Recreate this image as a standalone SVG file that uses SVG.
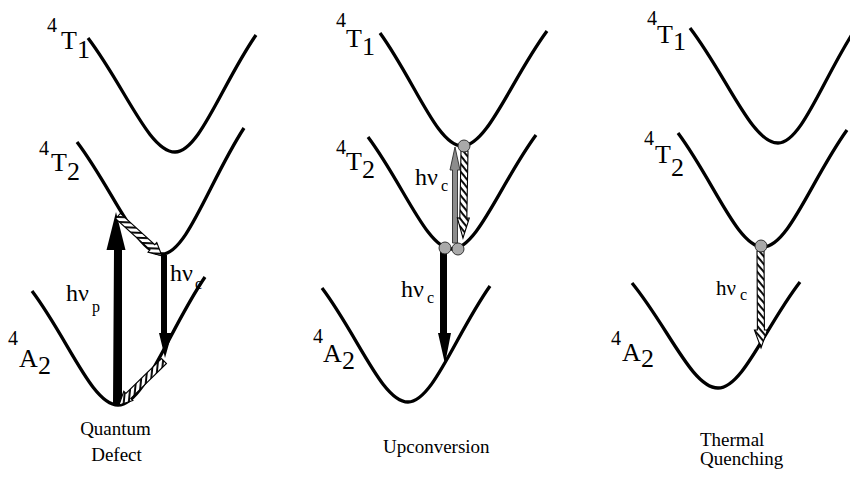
<svg xmlns="http://www.w3.org/2000/svg" width="850" height="481" viewBox="0 0 850 481">
<style>
.curve{fill:none;stroke:#000;stroke-width:3.3}
.lbl{font-family:"Liberation Serif","Times New Roman",serif;fill:#000}
.big{font-size:26px}
.sup{font-size:20px}
.hv{font-size:24px}
.sub{font-size:16px}
.cap{font-size:19px}
.blk{fill:#000}
.hat{fill:url(#hatch);stroke:#000;stroke-width:1.1}
.gry{fill:#8c8c8c;stroke:#2a2a2a;stroke-width:0.9}
.dot{fill:#a9a9a9;stroke:#222;stroke-width:0.9}
</style>
<defs>
<pattern id="hatch" width="5" height="5" patternUnits="userSpaceOnUse" patternTransform="rotate(50)">
<rect width="5" height="5" fill="#fff"/>
<rect width="1.9" height="5" fill="#000"/>
</pattern>
</defs>
<rect width="850" height="481" fill="#fff"/>

<!-- Panel 1: Quantum Defect -->
<g id="p1-T1">
<path class="curve" d="M88,38 C124.5,85.9 148.9,152 175,152 C199.3,152 222,84.1 256,35"/>
<text class="lbl"><tspan class="sup" x="47" y="32">4</tspan><tspan class="big" x="61" y="49">T</tspan><tspan class="big" x="77" y="58">1</tspan></text>
</g>
<g id="p1-T2">
<path class="curve" d="M77,142 C112.7,189 136.5,254 162,254 C186.6,254 209.6,180.9 244,128"/>
<text class="lbl"><tspan class="sup" x="39" y="155">4</tspan><tspan class="big" x="51" y="171">T</tspan><tspan class="big" x="67" y="180">2</tspan></text>
</g>
<g id="p1-A2">
<path class="curve" d="M32,291 C68.1,338.9 92.2,405 118,405 C144.1,405 168.5,330.8 205,277"/>
<text class="lbl"><tspan class="sup" x="8" y="345">4</tspan><tspan class="big" x="19" y="367">A</tspan><tspan class="big" x="38" y="374">2</tspan></text>
</g>
<g id="p1-caption">
<text class="lbl cap" x="115.5" y="435" text-anchor="middle">Quantum</text>
<text class="lbl cap" x="116.5" y="461" text-anchor="middle">Defect</text>
</g>

<!-- Panel 2: Upconversion -->
<g id="p2-T1">
<path class="curve" d="M380,33 C414.4,80.5 437.4,146 462,146 C487.5,146 511.3,79.3 547,31"/>
<text class="lbl"><tspan class="sup" x="336" y="27">4</tspan><tspan class="big" x="346" y="47">T</tspan><tspan class="big" x="362" y="55">1</tspan></text>
</g>
<g id="p2-T2">
<path class="curve" d="M368,137 C403.3,184 426.8,249 452,249 C477.2,249 500.7,182.9 536,135"/>
<text class="lbl"><tspan class="sup" x="336" y="154">4</tspan><tspan class="big" x="346" y="170">T</tspan><tspan class="big" x="362" y="178">2</tspan></text>
</g>
<g id="p2-A2">
<path class="curve" d="M322,288 C358.1,335.9 382.2,402 408,402 C432.6,402 455.6,334.7 490,286"/>
<text class="lbl"><tspan class="sup" x="313" y="343">4</tspan><tspan class="big" x="323" y="362">A</tspan><tspan class="big" x="342" y="369">2</tspan></text>
</g>
<g id="p2-caption">
<text class="lbl cap" x="383" y="453">Upconversion</text>
</g>

<!-- Panel 3: Thermal Quenching -->
<g id="p3-T1">
<path class="curve" d="M690,28 C727,76.3 751.6,143 778,143 C802,143 824.4,74.6 858,25"/>
<text class="lbl"><tspan class="sup" x="647" y="25">4</tspan><tspan class="big" x="657" y="43">T</tspan><tspan class="big" x="673" y="50">1</tspan></text>
</g>
<g id="p3-T2">
<path class="curve" d="M678,133 C713.7,180.9 737.5,247 763,247 C788.2,247 811.7,179.1 847,130"/>
<text class="lbl"><tspan class="sup" x="644" y="145">4</tspan><tspan class="big" x="655" y="163">T</tspan><tspan class="big" x="671" y="176">2</tspan></text>
</g>
<g id="p3-A2">
<path class="curve" d="M632,283 C668.1,327.1 692.2,388 718,388 C742.6,388 765.6,326.5 800,282"/>
<text class="lbl"><tspan class="sup" x="611" y="345">4</tspan><tspan class="big" x="622" y="361">A</tspan><tspan class="big" x="641" y="367">2</tspan></text>
</g>
<g id="p3-caption">
<text class="lbl cap" x="700" y="446">Thermal</text>
<text class="lbl cap" x="700" y="465">Quenching</text>
</g>

<!-- Connectors (transitions) -->
<g id="connectors">
<!-- panel 1 -->
<polygon class="blk" points="113,405 122,405 122,250 125.5,250 116,212 106.5,250 114,250"/>
<g transform="translate(118,216) rotate(42.27)"><polygon class="hat" points="0,-3.5 46.5,-3.5 46.5,-6.5 59.5,0 46.5,6.5 46.5,3.5 0,3.5"/></g>
<polygon class="blk" points="161,255 167,255 167,333 172,333 165,358 159,333 161,333"/>
<g transform="translate(164,361) rotate(135.65)"><polygon class="hat" points="0,-3.5 49.9,-3.5 49.9,-6.5 62.9,0 49.9,6.5 49.9,3.5 0,3.5"/></g>
<!-- panel 2 -->
<polygon class="blk" points="440,252 447,252 447,333 451,333 445,364 438,333 440,333"/>
<polygon class="gry" points="452.5,243 457.5,243 457.5,170 460,170 455,147 450,170 452.5,170"/>
<g transform="translate(464.5,151) rotate(91)"><polygon class="hat" points="0,-3.5 67,-3.5 67,-6 87,0 67,6 67,3.5 0,3.5"/></g>
<!-- panel 3 -->
<g transform="translate(760.5,251) rotate(89.7)"><polygon class="hat" points="0,-3.5 79,-3.5 79,-6.5 97,0 79,6.5 79,3.5 0,3.5"/></g>
</g>

<g id="electrons">
<circle class="dot" cx="445" cy="248" r="6"/>
<circle class="dot" cx="458" cy="249" r="6"/>
<circle class="dot" cx="464" cy="146" r="6"/>
<circle class="dot" cx="761" cy="246" r="6"/>
</g>

<g id="transition-labels">
<text class="lbl"><tspan class="hv" x="66" y="301">hν</tspan><tspan class="sub" x="92" y="312">p</tspan></text>
<text class="lbl"><tspan class="hv" x="170" y="281">hν</tspan><tspan class="sub" x="195" y="289">c</tspan></text>
<text class="lbl"><tspan class="hv" x="415" y="185">hν</tspan><tspan class="sub" x="441" y="191">c</tspan></text>
<text class="lbl"><tspan class="hv" x="401" y="297">hν</tspan><tspan class="sub" x="427" y="303">c</tspan></text>
<text class="lbl"><tspan class="hv" x="716" y="295" style="font-size:21px">hν</tspan><tspan class="sub" x="740" y="300">c</tspan></text>
</g>
</svg>
